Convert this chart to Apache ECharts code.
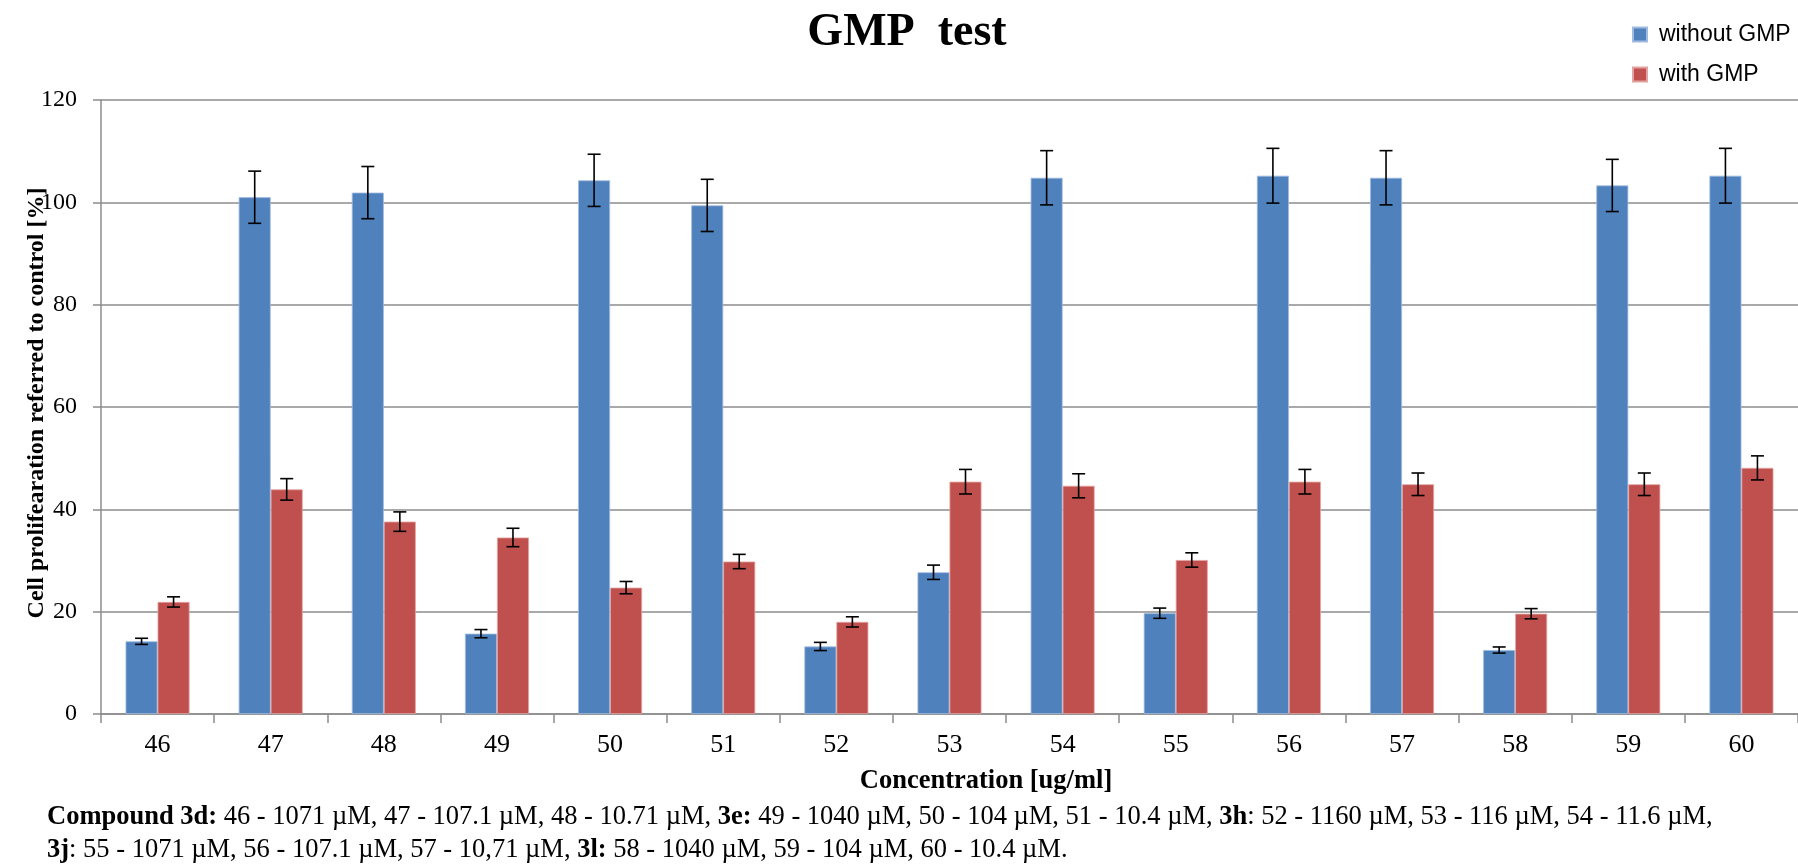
<!DOCTYPE html>
<html>
<head>
<meta charset="utf-8">
<script src="https://cdn.jsdelivr.net/npm/echarts@6/dist/echarts.min.js"></script>
<style>
  html, body { margin: 0; padding: 0; background: #fff; }
  #chart { width: 1798px; height: 864px; }
</style>
</head>
<body>
<div id="chart"></div>
<script>
// data
const categories = ['46', '47', '48', '49', '50', '51', '52', '53', '54', '55', '56', '57', '58', '59', '60'];
const withoutGMP = [14.2, 101.0, 101.9, 15.7, 104.3, 99.4, 13.2, 27.7, 104.8, 19.7, 105.2, 104.8, 12.5, 103.3, 105.2];
const withoutErr = [0.6, 5.1, 5.1, 0.8, 5.1, 5.1, 0.8, 1.4, 5.3, 1.0, 5.35, 5.3, 0.6, 5.1, 5.35];
const withGMP = [21.9, 43.9, 37.6, 34.5, 24.7, 29.8, 18.0, 45.4, 44.6, 30.1, 45.4, 44.9, 19.6, 44.9, 48.1];
const withErr = [1.0, 2.1, 1.9, 1.8, 1.2, 1.4, 1.0, 2.4, 2.35, 1.4, 2.4, 2.2, 1.0, 2.2, 2.35];
const yTicks = [0, 20, 40, 60, 80, 100, 120];

const BAR_W = 32;
const AXIS_GRAY = '#8c8c8c';
const SERIF = '"Liberation Serif", "Times New Roman", serif';

// error bar ranges [category, low, high]
function errData(vals, errs) {
  return vals.map((v, i) => [i, v - errs[i], v + errs[i]]);
}

function errorBar(offset) {
  return function (params, api) {
    const lo = api.coord([api.value(0), api.value(1)]);
    const hi = api.coord([api.value(0), api.value(2)]);
    const x = lo[0] + offset;
    const cap = 6.5;
    const style = { stroke: '#000', lineWidth: 1.6 };
    return {
      type: 'group',
      children: [
        { type: 'line', shape: { x1: x, y1: hi[1], x2: x, y2: lo[1] }, style },
        { type: 'line', shape: { x1: x - cap, y1: hi[1], x2: x + cap, y2: hi[1] }, style },
        { type: 'line', shape: { x1: x - cap, y1: lo[1], x2: x + cap, y2: lo[1] }, style }
      ]
    };
  };
}

const chart = echarts.init(document.getElementById('chart'));

const option = {
  backgroundColor: '#fff',
  animation: false,
  grid: { left: 101, right: 0, top: 100, bottom: 150 },
  legend: {
    data: ['without GMP', 'with GMP'],
    orient: 'vertical',
    left: 1627,
    top: 18,
    itemWidth: 14,
    itemHeight: 14,
    itemGap: 17,
    icon: 'rect',
    textStyle: { fontFamily: '"Liberation Sans", Arial, sans-serif', fontSize: 23, color: '#000', padding: [0, 0, 0, 7] }
  },
  xAxis: {
    type: 'category',
    data: categories,
    axisLine: { lineStyle: { color: AXIS_GRAY, width: 1.5 } },
    axisTick: { show: true, length: 9, interval: 0, lineStyle: { color: AXIS_GRAY, width: 1.5 } },
    axisLabel: { fontFamily: SERIF, fontSize: 26, color: '#000', margin: 18, interval: 0 }
  },
  yAxis: {
    type: 'value',
    min: yTicks[0],
    max: yTicks[yTicks.length - 1],
    interval: yTicks[1] - yTicks[0],
    axisLine: { show: true, lineStyle: { color: AXIS_GRAY, width: 1.5 } },
    axisTick: { show: true, length: 8, lineStyle: { color: AXIS_GRAY, width: 1.5 } },
    splitLine: { lineStyle: { color: AXIS_GRAY, width: 1.5 } },
    axisLabel: { fontFamily: SERIF, fontSize: 24, color: '#000', margin: 24 }
  },
  series: [
    {
      name: 'without GMP',
      type: 'bar',
      data: withoutGMP,
      barWidth: BAR_W,
      barGap: '0%',
      itemStyle: { color: '#4F81BD', borderColor: '#9fbbe0', borderWidth: 0.8 }
    },
    {
      name: 'with GMP',
      type: 'bar',
      data: withGMP,
      barWidth: BAR_W,
      barGap: '0%',
      itemStyle: { color: '#C0504D', borderColor: '#e3a3a1', borderWidth: 0.8 }
    },
    {
      name: 'err1',
      type: 'custom',
      data: errData(withoutGMP, withoutErr),
      renderItem: errorBar(-BAR_W / 2),
      encode: { x: 0, y: [1, 2] },
      z: 10
    },
    {
      name: 'err2',
      type: 'custom',
      data: errData(withGMP, withErr),
      renderItem: errorBar(BAR_W / 2),
      encode: { x: 0, y: [1, 2] },
      z: 10
    }
  ],
  graphic: [
    {
      type: 'text',
      x: 907, y: 10,
      style: {
        text: 'GMP  test',
        font: 'bold 46px ' + SERIF,
        fill: '#000',
        textAlign: 'center',
        textVerticalAlign: 'top'
      }
    },
    {
      type: 'text',
      x: 37, y: 403,
      rotation: Math.PI / 2,
      style: {
        text: 'Cell prolifearation referred to control [%]',
        font: 'bold 24px ' + SERIF,
        fill: '#000',
        textAlign: 'center',
        textVerticalAlign: 'middle'
      }
    },
    {
      type: 'text',
      x: 986, y: 781,
      style: {
        text: 'Concentration [ug/ml]',
        font: 'bold 26.5px ' + SERIF,
        fill: '#000',
        textAlign: 'center',
        textVerticalAlign: 'middle'
      }
    },
    {
      type: 'text',
      x: 47, y: 834,
      style: {
        text: '{b|Compound 3d:} 46 - 1071 µM, 47 - 107.1 µM, 48 - 10.71 µM, {b|3e:} 49 - 1040 µM, 50 - 104 µM, 51 - 10.4 µM, {b|3h}: 52 - 1160 µM, 53 - 116 µM, 54 - 11.6 µM,\n'
            + '{b|3j}: 55 - 1071 µM, 56 - 107.1 µM, 57 - 10,71 µM, {b|3l:} 58 - 1040 µM, 59 - 104 µM, 60 - 10.4 µM.',
        font: '26.5px ' + SERIF,
        fill: '#000',
        lineHeight: 33,
        textVerticalAlign: 'middle',
        rich: {
          b: { font: 'bold 26.5px ' + SERIF, fill: '#000', lineHeight: 33 }
        }
      }
    }
  ]
};

chart.setOption(option);
</script>
</body>
</html>
